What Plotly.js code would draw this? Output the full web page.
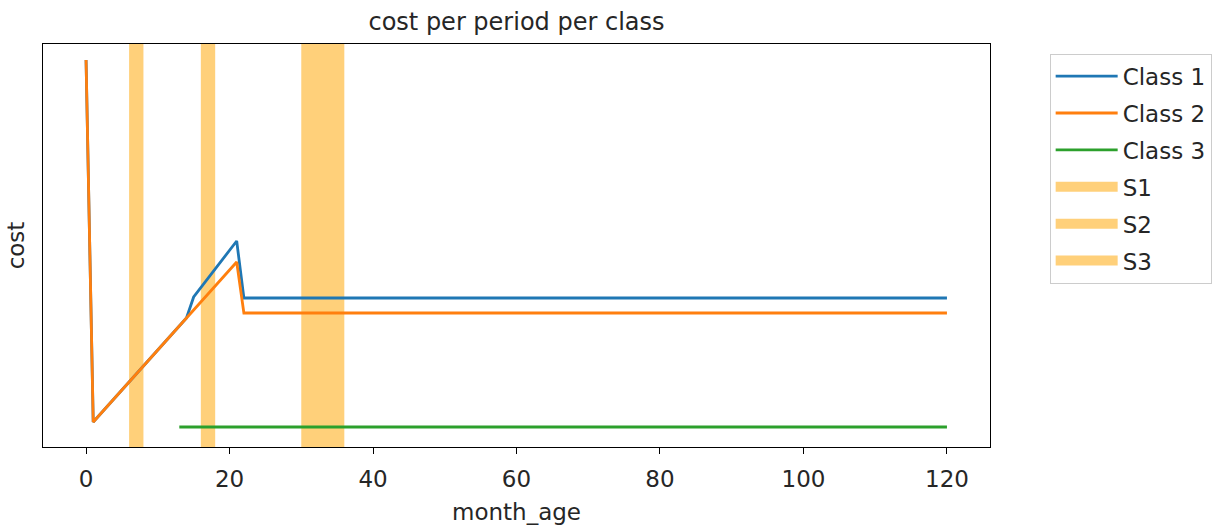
<!DOCTYPE html>
<html>
<head>
<meta charset="utf-8">
<script src="https://cdn.plot.ly/plotly-3.0.1.min.js"></script>
<style>html,body{margin:0;padding:0;background:#fff;}#chart{width:1224px;height:525px;}</style>
</head>
<body>
<div id="chart"></div>
<script>
// Data
const class1X = [0, 1, 14, 15, 21, 22, 120];
const class1Y = [367, 5, 109, 130, 186, 129, 129];
const class2X = [0, 1, 21, 22, 120];
const class2Y = [367, 5, 165, 114, 114];
const class3X = [13, 120];
const class3Y = [0, 0];
const spanNames = ["S1", "S2", "S3"];
const spanStart = [6, 16, 30];
const spanEnd = [8, 18, 36];
const yRange = [-20, 383];
const xRange = [-6, 126];

const font = "DejaVu Sans, sans-serif";
const txt = "#262626";
const spanColor = "rgba(255,165,0,0.52)";
const traces = [
  {x: class1X, y: class1Y, mode: "lines", name: "Class 1", legendgroup: "g1", legendrank: 1,
   line: {color: "#1f77b4", width: 2.8}},
  {x: class2X, y: class2Y, mode: "lines", name: "Class 2", legendgroup: "g2", legendrank: 2,
   line: {color: "#ff7f0e", width: 2.8}},
  {x: class3X, y: class3Y, mode: "lines", name: "Class 3", legendgroup: "g3", legendrank: 3,
   line: {color: "#2ca02c", width: 2.8}}
];
// legend entries for the shaded spans (the spans themselves are layout shapes)
spanNames.forEach((n, i) => traces.push({
  x: [null], y: [null], mode: "lines", name: n, legendgroup: "s" + i, legendrank: 4 + i,
  line: {color: spanColor, width: 10}, hoverinfo: "skip"
}));
const shapes = spanNames.map((n, i) => ({
  type: "rect", xref: "x", yref: "paper", x0: spanStart[i], x1: spanEnd[i], y0: 0, y1: 1,
  fillcolor: spanColor, line: {width: 0}, layer: "below"
}));

const layout = {
  width: 1224, height: 525,
  margin: {l: 43, r: 234, t: 44, b: 78},
  paper_bgcolor: "#fff", plot_bgcolor: "#fff",
  font: {family: font, size: 23, color: txt},
  title: {text: "cost per period per class", x: 0.5, xref: "paper", y: 1 - 22/525, yref: "container",
    yanchor: "middle", font: {family: font, size: 24, color: txt}},
  xaxis: {range: xRange, showgrid: false, zeroline: false, showline: true, mirror: true,
    linecolor: "#000", linewidth: 1.2, ticks: "outside", ticklen: 6, tickcolor: "#000",
    ticklabelstandoff: 5,
    tickvals: [0, 20, 40, 60, 80, 100, 120], tickfont: {family: font, size: 23, color: txt},
    title: {text: "month_age", font: {family: font, size: 23, color: txt}, standoff: 14}},
  yaxis: {range: yRange, showgrid: false, zeroline: false, showline: true, mirror: true,
    linecolor: "#000", linewidth: 1.2, showticklabels: false, ticks: "",
    title: {text: "cost", font: {family: font, size: 23, color: txt}, standoff: 10}},
  shapes: shapes,
  showlegend: true,
  legend: {x: 1.063, xanchor: "left", y: 0.976, yanchor: "top",
    bordercolor: "#ccc", borderwidth: 1, bgcolor: "#fff",
    traceorder: "grouped", tracegroupgap: 4, itemwidth: 62,
    font: {family: font, size: 23, color: txt}}
};
Plotly.newPlot("chart", traces, layout, {displayModeBar: false, staticPlot: true});
</script>
</body>
</html>
